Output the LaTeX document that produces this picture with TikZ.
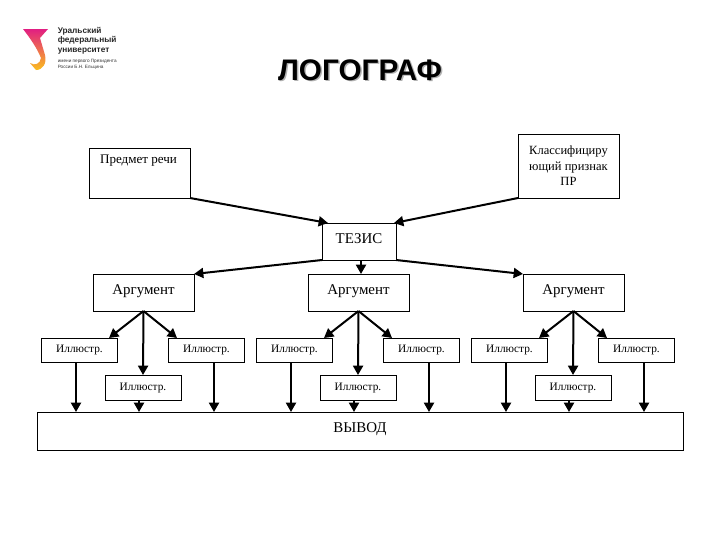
\documentclass[tikz,border=0pt]{standalone}
\usepackage{fontspec}
\setmainfont{Liberation Serif}
\newfontfamily\arialf{Liberation Sans}
\usetikzlibrary{arrows.meta,calc}
\definecolor{lgtop}{RGB}{225,30,130}
\definecolor{lgmid}{RGB}{235,50,50}
\definecolor{lgbot}{RGB}{250,190,30}
\tikzset{
  bx/.style={draw=black,line width=0.7pt,outer sep=0pt,fill=white,inner sep=0pt,font=\fontsize{11.2}{13}\selectfont,align=center},
  ill/.style={bx,minimum width=57pt,font=\fontsize{8.5}{10}\selectfont},
  arr/.style={line width=1.5pt,-{Triangle[width=7.5pt,length=7pt]},black},
  ttl/.style={font=\arialf\bfseries\fontsize{22.3}{26}\selectfont,inner sep=0pt},
  logo/.style={font=\arialf\bfseries\fontsize{6.2}{6.8}\selectfont,align=left,anchor=north west,inner sep=0pt,text=black!85},
  logos/.style={font=\arialf\fontsize{3.5}{3.8}\selectfont,align=left,anchor=north west,inner sep=0pt,text=black!80}
}
\begin{document}
\begin{tikzpicture}[x=0.75pt,y=-0.75pt]
\useasboundingbox (0,0) rectangle (720,540);
% logo
\shade[top color=lgtop,middle color=lgmid,bottom color=lgbot,shading angle=0]
  (23,29) -- (48,29) -- (40,38) -- (45,55) .. controls (47,63) and (43,70) .. (36,70)
  -- (30,63) .. controls (35,66) and (40,64) .. (41,58) .. controls (37,48) and (30,38) .. (23,29) -- cycle;
\node[logo] (lg) at (57.5,27.5) {Уральский\\федеральный\\университет};
\node[logos] (lgs) at (57.5,59.5) {имени первого Президента\\России Б.Н. Ельцина};
% title
\node[ttl,text=black!30] (ts) at (361.5,71.5) {ЛОГОГРАФ};
\node[ttl] (t) at (360,70) {ЛОГОГРАФ};
% boxes
\node[bx,minimum width=75.75pt,minimum height=37.5pt,font=\fontsize{9.8}{12}\selectfont] (pr) at (139.5,173) {\raisebox{20pt}{\hspace*{-1.5pt}Предмет речи}};
\node[bx,minimum width=75.75pt,minimum height=48pt,font=\fontsize{9.4}{11.6}\selectfont] (kl) at (568.5,166) {\raisebox{8.5pt}{\parbox{72pt}{\centering Классифициру\\ющий признак\\ПР}}};
\node[bx,minimum width=55.5pt,minimum height=27.75pt] (tz) at (359,241.5) {\raisebox{4pt}{ТЕЗИС}};
\node[bx,minimum width=484.5pt,minimum height=28.5pt] (vv) at (360,431) {\raisebox{4.5pt}{ВЫВОД}};
\draw[arr] (pr.south east) -- ($(tz.north west)+(6,0)$);
\draw[arr] (kl.south west) -- ($(tz.north east)+(-2,0)$);
\foreach \g/\dx in {a/0,b/215,c/430}{
  \node[bx,minimum width=75.75pt,minimum height=27.75pt] (arg\g) at (143.5+\dx,292.5) {\raisebox{4pt}{Аргумент}};
  \node[ill,minimum height=18pt] (il\g) at (79.5+\dx,350) {\raisebox{1pt}{Иллюстр.}};
  \node[ill,minimum height=18pt] (ir\g) at (206.5+\dx,350) {\raisebox{1pt}{Иллюстр.}};
  \node[ill,minimum height=18.75pt] (im\g) at (143+\dx,387.5) {Иллюстр.};
  \draw[arr] (arg\g.south) -- ($(il\g.north)+(29.5,0)$);
  \draw[arr] (arg\g.south) -- ($(ir\g.north)+(-29.5,0)$);
  \draw[arr] (arg\g.south) -- (im\g.north);
  \draw[arr] ($(il\g.south)+(-3.5,0)$) -- ($(il\g.south)+(-3.5,50)$);
  \draw[arr] ($(im\g.south)+(-4,0)$) -- ($(im\g.south)+(-4,12)$);
  \draw[arr] ($(ir\g.south)+(7.5,0)$) -- ($(ir\g.south)+(7.5,50)$);
}
\draw[arr] (tz.south west) -- (arga.north east);
\draw[arr] ($(tz.south)+(2,0)$) -- ($(argb.north)+(2.5,0)$);
\draw[arr] (tz.south east) -- (argc.north west);
\end{tikzpicture}
\end{document}
